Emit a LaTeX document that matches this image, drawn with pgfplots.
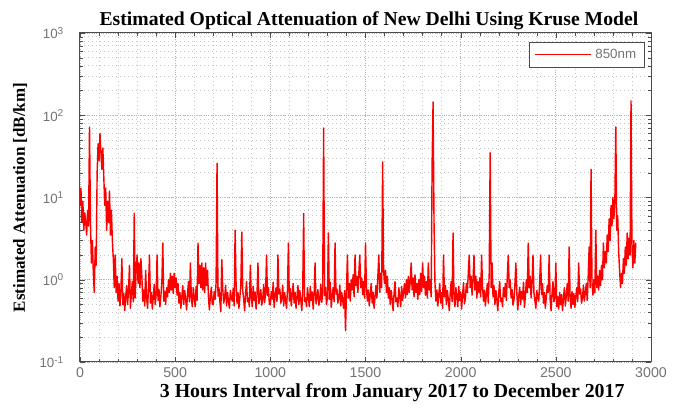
\documentclass[border=0pt]{standalone}
\usepackage{pgfplots}
\usepackage{pgfplotstable}
\pgfplotsset{compat=1.18}
\usepackage{fontspec}
\setmainfont{Liberation Serif}
\setsansfont{Liberation Sans}

\pgfplotstableread[row sep=\\]{
x y\\
0 8\\ 5 13\\ 10 5\\ 15 9\\ 20 4\\ 25 6.5\\ 30 5\\ 35 3.5\\ 40 7\\ 45 4.5\\ 50 72\\ 55 5\\ 60 1.6\\ 65 3\\ 70 1.2\\ 75 0.7\\ 80 2.5\\ 85 1.5\\ 90 20\\ 95 45\\
100 28\\ 105 60\\ 110 35\\ 115 22\\ 120 40\\ 125 18\\ 130 8\\ 135 13\\ 140 4\\ 145 9\\ 150 5\\ 155 12\\ 160 3.5\\ 165 7\\ 170 3\\ 175 1.8\\ 180 0.8\\ 185 2\\ 190 0.7\\ 195 1.1\\
200 0.55\\ 205 0.9\\ 210 0.48\\ 215 0.75\\ 220 1.8\\ 225 0.5\\ 230 0.68\\ 235 0.42\\ 240 0.62\\ 245 0.85\\ 250 0.5\\ 255 0.74\\ 260 1.5\\ 265 0.45\\ 270 0.68\\ 275 0.95\\ 280 0.54\\ 285 6.4\\ 290 0.6\\ 295 1.3\\
300 2\\ 305 0.9\\ 310 1.6\\ 315 0.8\\ 320 1.8\\ 325 1.1\\ 330 0.55\\ 335 0.75\\ 340 0.48\\ 345 1.3\\ 350 0.6\\ 355 0.45\\ 360 0.8\\ 365 2.0\\ 370 0.52\\ 375 0.7\\ 380 0.44\\ 385 0.62\\ 390 0.88\\ 395 0.5\\
400 0.66\\ 405 2.0\\ 410 0.56\\ 415 0.76\\ 420 0.47\\ 425 0.64\\ 430 0.9\\ 435 2.8\\ 440 0.55\\ 445 0.72\\ 450 0.5\\ 455 0.8\\ 460 0.62\\ 465 1.0\\ 470 0.7\\ 475 1.2\\ 480 0.75\\ 485 1.1\\ 490 0.68\\ 495 1.2\\
500 0.8\\ 505 1.05\\ 510 0.65\\ 515 0.9\\ 520 0.52\\ 525 0.7\\ 530 0.45\\ 535 0.62\\ 540 0.85\\ 545 0.5\\ 550 0.74\\ 555 0.58\\ 560 0.43\\ 565 0.68\\ 570 0.95\\ 575 0.54\\ 580 1.6\\ 585 0.6\\ 590 0.47\\ 595 0.8\\
600 0.62\\ 605 0.47\\ 610 0.83\\ 615 0.56\\ 620 2.8\\ 625 0.9\\ 630 1.5\\ 635 0.8\\ 640 1.6\\ 645 0.75\\ 650 1.4\\ 655 0.7\\ 660 1.6\\ 665 0.85\\ 670 1.3\\ 675 0.6\\ 680 0.43\\ 685 0.64\\ 690 0.81\\ 695 0.5\\
700 0.5\\ 705 0.72\\ 710 0.58\\ 715 0.93\\ 720 26\\ 725 0.63\\ 730 0.8\\ 735 0.54\\ 740 0.41\\ 745 1.75\\ 750 0.77\\ 755 0.52\\ 760 0.6\\ 765 0.86\\ 770 0.48\\ 775 0.7\\ 780 0.56\\ 785 0.45\\ 790 0.74\\ 795 0.61\\
800 0.55\\ 805 0.78\\ 810 0.48\\ 815 4.0\\ 820 0.9\\ 825 0.52\\ 830 0.7\\ 835 0.45\\ 840 0.62\\ 845 0.85\\ 850 3.8\\ 855 0.74\\ 860 0.58\\ 865 0.42\\ 870 0.68\\ 875 0.95\\ 880 0.54\\ 885 0.6\\ 890 0.47\\ 895 1.5\\
900 0.62\\ 905 0.47\\ 910 0.83\\ 915 0.56\\ 920 0.71\\ 925 0.44\\ 930 0.66\\ 935 1.6\\ 940 0.51\\ 945 0.6\\ 950 0.76\\ 955 0.49\\ 960 0.57\\ 965 0.88\\ 970 0.53\\ 975 0.69\\ 980 2.0\\ 985 0.64\\ 990 0.81\\ 995 0.5\\
1000 0.5\\ 1005 0.72\\ 1010 0.58\\ 1015 0.93\\ 1020 0.46\\ 1025 0.63\\ 1030 0.8\\ 1035 0.54\\ 1040 2.0\\ 1045 0.67\\ 1050 0.77\\ 1055 0.52\\ 1060 0.6\\ 1065 0.86\\ 1070 0.48\\ 1075 0.7\\ 1080 0.56\\ 1085 0.45\\ 1090 0.74\\ 1095 2.8\\
1100 0.55\\ 1105 0.78\\ 1110 0.48\\ 1115 0.66\\ 1120 0.9\\ 1125 0.52\\ 1130 0.7\\ 1135 0.45\\ 1140 0.62\\ 1145 0.85\\ 1150 0.5\\ 1155 0.74\\ 1160 0.58\\ 1165 0.42\\ 1170 0.68\\ 1175 6.4\\ 1180 0.54\\ 1185 0.6\\ 1190 0.47\\ 1195 0.8\\
1200 0.62\\ 1205 0.47\\ 1210 0.83\\ 1215 0.56\\ 1220 0.71\\ 1225 0.44\\ 1230 0.66\\ 1235 1.6\\ 1240 0.51\\ 1245 0.6\\ 1250 0.76\\ 1255 0.49\\ 1260 0.57\\ 1265 0.88\\ 1270 0.53\\ 1275 0.69\\ 1280 70\\ 1285 0.64\\ 1290 0.81\\ 1295 0.5\\
1300 0.6\\ 1305 3.7\\ 1310 0.58\\ 1315 0.93\\ 1320 0.46\\ 1325 0.63\\ 1330 0.8\\ 1335 0.54\\ 1340 2.8\\ 1345 0.67\\ 1350 0.77\\ 1355 0.52\\ 1360 0.6\\ 1365 0.86\\ 1370 0.48\\ 1375 0.7\\ 1380 0.56\\ 1385 0.45\\ 1390 0.74\\ 1395 0.24\\
1400 0.7\\ 1405 2.0\\ 1410 0.6\\ 1415 0.9\\ 1420 0.55\\ 1425 1.0\\ 1430 0.75\\ 1435 1.15\\ 1440 0.62\\ 1445 2.0\\ 1450 0.85\\ 1455 1.1\\ 1460 0.7\\ 1465 1.2\\ 1470 2.0\\ 1475 0.8\\ 1480 1.05\\ 1485 0.66\\ 1490 0.95\\ 1495 0.6\\
1500 2.8\\ 1505 0.8\\ 1510 0.55\\ 1515 0.75\\ 1520 0.48\\ 1525 0.66\\ 1530 0.9\\ 1535 0.52\\ 1540 0.7\\ 1545 0.45\\ 1550 0.62\\ 1555 0.85\\ 1560 0.6\\ 1565 1.1\\ 1570 2.0\\ 1575 0.7\\ 1580 1.2\\ 1585 0.8\\ 1590 27\\ 1595 1.3\\
1600 0.9\\ 1605 1.3\\ 1610 0.7\\ 1615 1.1\\ 1620 0.6\\ 1625 0.8\\ 1630 0.5\\ 1635 0.74\\ 1640 0.58\\ 1645 0.42\\ 1650 0.68\\ 1655 0.95\\ 1660 0.54\\ 1665 0.6\\ 1670 0.47\\ 1675 0.8\\ 1680 0.62\\ 1685 0.47\\ 1690 0.83\\ 1695 0.56\\
1700 0.71\\ 1705 0.9\\ 1710 0.6\\ 1715 1.0\\ 1720 0.66\\ 1725 1.1\\ 1730 0.7\\ 1735 0.95\\ 1740 1.6\\ 1745 0.75\\ 1750 1.05\\ 1755 0.62\\ 1760 1.15\\ 1765 0.7\\ 1770 0.9\\ 1775 0.58\\ 1780 1.0\\ 1785 0.66\\ 1790 1.2\\ 1795 0.72\\
1800 1.6\\ 1805 0.8\\ 1810 1.1\\ 1815 0.65\\ 1820 0.95\\ 1825 0.6\\ 1830 1.6\\ 1835 0.75\\ 1840 1.0\\ 1845 0.62\\ 1850 26\\ 1855 145\\ 1860 5\\ 1865 0.9\\ 1870 0.55\\ 1875 0.75\\ 1880 0.48\\ 1885 0.66\\ 1890 0.9\\ 1895 0.52\\
1900 0.7\\ 1905 0.45\\ 1910 2.0\\ 1915 0.62\\ 1920 0.85\\ 1925 0.5\\ 1930 0.74\\ 1935 0.58\\ 1940 0.42\\ 1945 0.68\\ 1950 0.95\\ 1955 0.54\\ 1960 3.7\\ 1965 0.6\\ 1970 0.47\\ 1975 0.8\\ 1980 0.62\\ 1985 0.47\\ 1990 0.83\\ 1995 0.56\\
2000 0.71\\ 2005 0.44\\ 2010 0.66\\ 2015 0.92\\ 2020 0.51\\ 2025 0.6\\ 2030 0.9\\ 2035 0.7\\ 2040 1.2\\ 2045 2.0\\ 2050 0.8\\ 2055 1.1\\ 2060 0.65\\ 2065 1.0\\ 2070 2.0\\ 2075 0.75\\ 2080 1.1\\ 2085 0.6\\ 2090 0.95\\ 2095 0.7\\
2100 1.05\\ 2105 0.62\\ 2110 2.0\\ 2115 0.8\\ 2120 0.55\\ 2125 0.75\\ 2130 0.48\\ 2135 0.66\\ 2140 0.9\\ 2145 0.52\\ 2150 1.2\\ 2155 35\\ 2160 0.8\\ 2165 1.6\\ 2170 0.62\\ 2175 0.85\\ 2180 0.5\\ 2185 0.74\\ 2190 0.58\\ 2195 0.42\\
2200 0.68\\ 2205 0.95\\ 2210 0.54\\ 2215 0.6\\ 2220 0.47\\ 2225 0.8\\ 2230 0.62\\ 2235 0.9\\ 2240 0.56\\ 2245 1.1\\ 2250 2.0\\ 2255 0.8\\ 2260 1.0\\ 2265 0.6\\ 2270 0.76\\ 2275 0.49\\ 2280 0.57\\ 2285 0.88\\ 2290 1.6\\ 2295 0.69\\
2300 0.43\\ 2305 0.64\\ 2310 0.81\\ 2315 0.5\\ 2320 0.72\\ 2325 0.58\\ 2330 0.93\\ 2335 0.46\\ 2340 0.63\\ 2345 1.0\\ 2350 0.7\\ 2355 2.8\\ 2360 0.8\\ 2365 1.1\\ 2370 0.6\\ 2375 0.9\\ 2380 2.0\\ 2385 0.7\\ 2390 0.56\\ 2395 0.45\\
2400 0.74\\ 2405 0.61\\ 2410 0.55\\ 2415 0.9\\ 2420 2.0\\ 2425 0.66\\ 2430 0.9\\ 2435 0.52\\ 2440 0.7\\ 2445 0.45\\ 2450 0.62\\ 2455 0.85\\ 2460 0.7\\ 2465 2.0\\ 2470 0.58\\ 2475 0.42\\ 2480 0.68\\ 2485 0.95\\ 2490 0.54\\ 2495 0.6\\
2500 1.6\\ 2505 0.47\\ 2510 0.62\\ 2515 0.44\\ 2520 0.7\\ 2525 0.5\\ 2530 0.66\\ 2535 0.42\\ 2540 0.6\\ 2545 0.8\\ 2550 0.48\\ 2555 0.64\\ 2560 0.9\\ 2565 0.55\\ 2570 2.5\\ 2575 0.6\\ 2580 0.45\\ 2585 0.72\\ 2590 0.5\\ 2595 0.68\\
2600 0.46\\ 2605 0.63\\ 2610 0.8\\ 2615 0.54\\ 2620 1.6\\ 2625 0.67\\ 2630 0.77\\ 2635 0.52\\ 2640 0.6\\ 2645 0.86\\ 2650 0.55\\ 2655 0.7\\ 2660 0.9\\ 2665 0.56\\ 2670 1.1\\ 2675 2.5\\ 2680 0.8\\ 2685 22\\ 2690 0.9\\ 2695 0.65\\
2700 1.0\\ 2705 0.7\\ 2710 4.0\\ 2715 0.8\\ 2720 1.1\\ 2725 0.75\\ 2730 1.3\\ 2735 0.85\\ 2740 1.5\\ 2745 1.0\\ 2750 2.8\\ 2755 1.4\\ 2760 2.2\\ 2765 1.6\\ 2770 3.5\\ 2775 2.2\\ 2780 5.5\\ 2785 3.0\\ 2790 8\\ 2795 4.5\\
2800 10\\ 2805 5.5\\ 2810 8.5\\ 2815 72\\ 2820 4\\ 2825 6\\ 2830 2.2\\ 2835 1.3\\ 2840 0.8\\ 2845 1.2\\ 2850 0.9\\ 2855 1.8\\ 2860 1.2\\ 2865 2.5\\ 2870 1.5\\ 2875 3.7\\ 2880 1.8\\ 2885 3.2\\ 2890 2.0\\ 2895 150\\
2900 2.5\\ 2905 1.4\\ 2910 3.0\\ 2915 1.6\\ 2920 2.8\\
}\attdata

\begin{document}
\begin{tikzpicture}
\begin{axis}[
  name=ax, at={(0,0)}, anchor=south west,
  scale only axis, width=342.6pt, height=197.4pt,
  xmin=0, xmax=3000, ymode=log, ymin=0.1, ymax=1000,
  xtick={0,500,1000,1500,2000,2500,3000},
  xticklabels={0,500,1000,1500,2000,2500,3000},
  ytick={0.1,1,10,100,1000},
  yticklabels={{10\textsuperscript{-1}},{10\textsuperscript{0}},{10\textsuperscript{1}},{10\textsuperscript{2}},{10\textsuperscript{3}}},
  minor x tick num=4,
  grid=both,
  major grid style={gray!60, densely dotted, line width=0.45pt},
  minor grid style={gray!45, dotted, line width=0.35pt},
  axis line style={black!70, line width=0.6pt},
  tick align=inside, tick pos=both,
  major tick length=3pt, minor tick length=1.6pt,
  tick style={black!70},
  xticklabel style={font=\sffamily\fontsize{8.5}{9}\selectfont, text=black!55},
  yticklabel style={font=\sffamily\fontsize{8}{9}\selectfont, text=black!55, xshift=-6pt},
  every axis title shift=0pt,
  title={Estimated Optical Attenuation of New Delhi Using Kruse Model},
  title style={font=\bfseries\fontsize{11.8}{13}\selectfont, at={(axis description cs:0.506,1.022)}, anchor=base, yshift=0pt},
  xlabel={3 Hours Interval from January 2017 to December 2017},
  xlabel style={font=\bfseries\fontsize{11.9}{13}\selectfont, at={(axis description cs:0.5467,-0.108)}, anchor=base},
  ylabel={Estimated Attenuation [dB/km]},
  ylabel style={font=\bfseries\fontsize{10.2}{12}\selectfont, at={(axis description cs:-0.105,0.5)}, anchor=center},
  legend style={at={(axis description cs:0.9895,0.974)}, anchor=north east, draw=black!70, line width=0.6pt,
    font=\sffamily\fontsize{8}{9}\selectfont, text=black!55, inner xsep=3pt, inner ysep=2pt},
  legend image code/.code={\draw[#1, line width=0.8pt] (0pt,0pt) -- (34pt,0pt);},
]
\addplot[red, line width=0.85pt, line join=round] table[x=x, y=y]{\attdata};
\addlegendentry{850nm}
\end{axis}
\pgfresetboundingbox
\path[use as bounding box] ([shift={(-48pt,-28.2pt)}]ax.south west) rectangle ([shift={(24pt,19.8pt)}]ax.north east);
\end{tikzpicture}
\end{document}
